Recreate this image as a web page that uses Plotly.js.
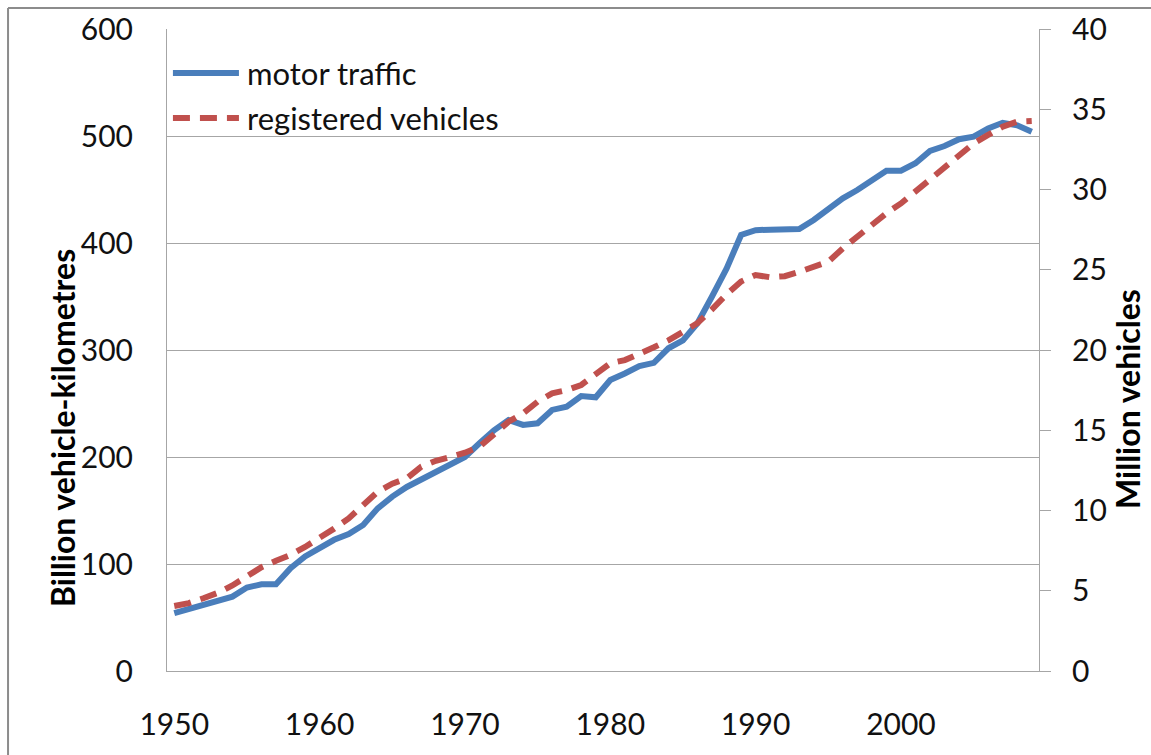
<!DOCTYPE html>
<html>
<head>
<meta charset="utf-8">
<script src="https://cdn.plot.ly/plotly-3.0.1.min.js"></script>
<style>html,body{margin:0;padding:0;background:#fff;}#chart{width:1151px;height:755px;}</style>
</head>
<body>
<div id="chart"></div>
<script>
const years = [1950,1951,1952,1953,1954,1955,1956,1957,1958,1959,
  1960,1961,1962,1963,1964,1965,1966,1967,1968,1969,
  1970,1971,1972,1973,1974,1975,1976,1977,1978,1979,
  1980,1981,1982,1983,1984,1985,1986,1987,1988,1989,
  1990,1991,1992,1993,1994,1995,1996,1997,1998,1999,
  2000,2001,2002,2003,2004,2005,2006,2007,2008,2009];

// billion vehicle-kilometres (left axis)
const motorTraffic = [54,58,61.7,65,69.5,78,81,81,96,107,
  115,122.6,128,136.5,152,163,172,179,186,192.5,
  200,212.8,225,234.6,230,231.5,244,247,257,255.8,
  272,278,285,288,301.6,309,325,350,376,407.5,
  412,412.5,413,413,421.5,431,441.8,449.5,458,467.6,
  467.6,474.5,486,490.6,497,499.4,507,512.4,510,504];

// million vehicles (right axis)
const registeredVehicles = [4.05,4.23,4.53,4.87,5.33,5.93,6.47,6.87,7.23,7.73,
  8.27,8.87,9.51,10.33,11.17,11.67,12.0,12.73,13.1,13.33,
  13.6,13.97,14.7,15.53,16.05,16.78,17.3,17.5,17.82,18.53,
  19.17,19.37,19.73,20.17,20.6,21.13,21.67,22.53,23.47,24.27,
  24.67,24.53,24.6,24.87,25.2,25.5,26.33,27.07,27.79,28.52,
  29.13,29.87,30.6,31.32,32.13,32.87,33.4,33.91,34.23,34.27];

const xTicks = [1950,1960,1970,1980,1990,2000];
const leftTicks = [0,100,200,300,400,500,600];
const rightTicks = [0,5,10,15,20,25,30,35,40];
const seriesNames = ['motor traffic','registered vehicles'];
const axisTitles = ['Billion vehicle-kilometres','Million vehicles'];

const BLUE = '#4a7ebb', RED = '#c0504d', GRID = '#a6a6a6', BORDER = '#8c8c8c';
const FONT = 'Lato, "Open Sans", sans-serif';
const TICKFONT = {family: FONT, size: 30, color: '#111'};
const DASH = '17px,10px';

const traces = [
  {x: years, y: motorTraffic, name: seriesNames[0], type: 'scatter', mode: 'lines',
   line: {color: BLUE, width: 6}, yaxis: 'y', showlegend: false},
  {x: years, y: registeredVehicles, name: seriesNames[1], type: 'scatter', mode: 'lines',
   line: {color: RED, width: 6, dash: DASH}, yaxis: 'y2', showlegend: false}
];

const layout = {
  width: 1151, height: 755,
  margin: {l: 167, r: 112, t: 29, b: 84, pad: 0},
  paper_bgcolor: '#fff', plot_bgcolor: '#fff',
  font: {family: FONT, size: 29, color: '#000'},
  showlegend: false,
  xaxis: {
    range: [1949.5, 2009.5], tickvals: xTicks, ticktext: xTicks.map(String),
    showgrid: false, zeroline: false, showline: true, linecolor: GRID, linewidth: 1,
    ticks: '', ticklabelstandoff: 27, tickfont: TICKFONT
  },
  yaxis: {
    range: [0, 600], tickvals: leftTicks, ticktext: leftTicks.map(String),
    showgrid: true, gridcolor: GRID, gridwidth: 1, zeroline: false,
    showline: true, linecolor: GRID, linewidth: 1, ticks: '',
    ticklabelstandoff: 27, tickfont: TICKFONT
  },
  yaxis2: {
    range: [0, 40], tickvals: rightTicks, ticktext: rightTicks.map(String),
    overlaying: 'y', side: 'right', showgrid: false, zeroline: false,
    showline: true, linecolor: GRID, linewidth: 1,
    ticks: 'outside', ticklen: 11, tickcolor: GRID, tickwidth: 1,
    ticklabelstandoff: 15, tickfont: TICKFONT
  },
  shapes: [
    // outer chart border (left and top)
    {type: 'line', xref: 'paper', yref: 'paper', x0: -0.1823, x1: -0.1823, y0: -0.2, y1: 1.0327,
     line: {color: BORDER, width: 2}},
    {type: 'line', xref: 'paper', yref: 'paper', x0: -0.1823, x1: 1.2, y0: 1.0327, y1: 1.0327,
     line: {color: BORDER, width: 2}},
    // legend samples
    {type: 'line', xref: 'paper', yref: 'paper', x0: 0.0068, x1: 0.0825, y0: 0.9315, y1: 0.9315,
     line: {color: BLUE, width: 6}},
    {type: 'line', xref: 'paper', yref: 'paper', x0: 0.0068, x1: 0.0825, y0: 0.8614, y1: 0.8614,
     line: {color: RED, width: 6, dash: DASH}}
  ],
  annotations: [
    {text: seriesNames[0], xref: 'paper', yref: 'paper', x: 0.0894, y: 0.9315,
     xanchor: 'left', yanchor: 'middle', showarrow: false, font: {family: FONT, size: 31, color: '#111'}},
    {text: seriesNames[1], xref: 'paper', yref: 'paper', x: 0.0894, y: 0.8614,
     xanchor: 'left', yanchor: 'middle', showarrow: false, font: {family: FONT, size: 31, color: '#111'}},
    {text: '<b>' + axisTitles[0] + '</b>', xref: 'paper', yref: 'paper', x: -0.1204, y: 0.3785,
     xanchor: 'center', yanchor: 'middle', textangle: -90, showarrow: false,
     font: {family: FONT, size: 32, color: '#000'}},
    {text: '<b>' + axisTitles[1] + '</b>', xref: 'paper', yref: 'paper', x: 1.102, y: 0.4237,
     xanchor: 'center', yanchor: 'middle', textangle: -90, showarrow: false,
     font: {family: FONT, size: 32, color: '#000'}}
  ]
};

Plotly.newPlot('chart', traces, layout, {displayModeBar: false, staticPlot: true});
</script>
</body>
</html>
